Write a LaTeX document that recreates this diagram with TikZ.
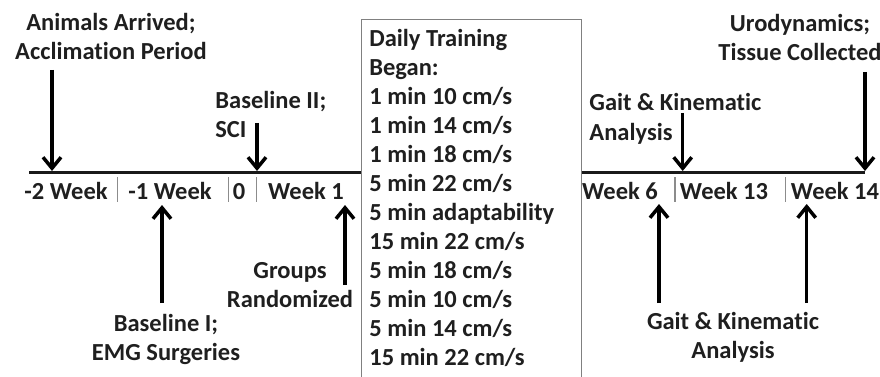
\documentclass[tikz,border=0pt]{standalone}
\usepackage{fontspec}
\setmainfont{Carlito}[Ligatures=NoCommon]
\usetikzlibrary{arrows.meta,positioning}

\begin{document}
\begin{tikzpicture}[x=1pt,y=-1pt,thick]
    \tikzstyle{lbl}=[font=\bfseries\fontsize{24.5}{29}\selectfont, text=black!88, inner sep=0pt, align=center]
    \tikzstyle{arr}=[line width=3.5pt, -{Straight Barb[length=11pt,width=18pt]}]
    \tikzstyle{tick}=[black!45, line width=1.2pt]
    \tikzstyle{axis}=[black!90, line width=3pt]

    \useasboundingbox (0,0) rectangle (880,377);

    % training box
    \node[draw=black!50, line width=1pt, minimum width=220pt, minimum height=380pt, anchor=north west, inner sep=0pt] (box) at (360.7,19.3) {};
    \node[lbl, align=left, anchor=base west] (train) at (369,365) {Daily Training\\Began:\\1 min 10 cm/s\\1 min 14 cm/s\\1 min 18 cm/s\\5 min 22 cm/s\\5 min adaptability\\15 min 22 cm/s\\5 min 18 cm/s\\5 min 10 cm/s\\5 min 14 cm/s\\15 min 22 cm/s};

    % time line
    \coordinate (l0) at (29,172);
    \coordinate (r0) at (865,172);
    \draw[axis] (l0) -- (box.west |- l0);
    \draw[axis] (box.east |- r0) -- (r0);

    \draw[tick] (117.3,177) -- (117.3,202);
    \draw[tick] (228.3,177) -- (228.3,202);
    \draw[tick] (256.7,177) -- (256.7,202);
    \draw[tick] (675,177) -- (675,202);
    \draw[tick] (785.7,177) -- (785.7,202);

    \node[lbl, anchor=base] (w1) at (66,199) {-2 Week};
    \node[lbl, anchor=base] (w2) at (170,199) {-1 Week};
    \node[lbl, anchor=base] (w3) at (239,199) {0};
    \node[lbl, anchor=base] (w4) at (306,199) {Week 1};
    \node[lbl, anchor=base] (w5) at (620,199) {Week 6};
    \node[lbl, anchor=base] (w6) at (724,199) {Week 13};
    \node[lbl, anchor=base] (w7) at (835,199) {Week 14};

    % events
    \node[lbl, anchor=base] (arrive) at (111,60) {Animals Arrived;\\Acclimation Period};
    \node[lbl, align=left, anchor=base west] (sci) at (215,138) {Baseline II;\\SCI};
    \node[lbl, anchor=base] (emg) at (166,360) {Baseline I;\\EMG Surgeries};
    \node[lbl, anchor=base] (rand) at (290,307) {Groups\\Randomized};
    \node[lbl, align=left, anchor=base west] (gait1) at (589,140) {Gait \& Kinematic\\Analysis};
    \node[lbl, anchor=base] (uro) at (800,61) {Urodynamics;\\Tissue Collected};
    \node[lbl, anchor=base] (gait2) at (733,358) {Gait \& Kinematic\\Analysis};

    \coordinate (s1) at (52,70);      \coordinate (e1) at (52,171);
    \coordinate (s2) at (257,123);    \coordinate (e2) at (257,171);
    \coordinate (s3) at (162,303);    \coordinate (e3) at (162,205);
    \coordinate (s4) at (345,285);    \coordinate (e4) at (345,205);
    \coordinate (s5) at (682.7,113);  \coordinate (e5) at (682.7,171);
    \coordinate (s6) at (865,72);     \coordinate (e6) at (865,171);
    \coordinate (s7) at (659,303);    \coordinate (e7) at (659,204);
    \coordinate (s8) at (806.7,303);  \coordinate (e8) at (806.7,204);

    \draw[arr] (s1) -- (e1);
    \draw[arr] (s2) -- (e2);
    \draw[arr] (s3) -- (e3);
    \draw[arr] (s4) -- (e4);
    \draw[arr] (s5) -- (e5);
    \draw[arr] (s6) -- (e6);
    \draw[arr] (s7) -- (e7);
    \draw[arr] (s8) -- (e8);

\end{tikzpicture}
\end{document}
